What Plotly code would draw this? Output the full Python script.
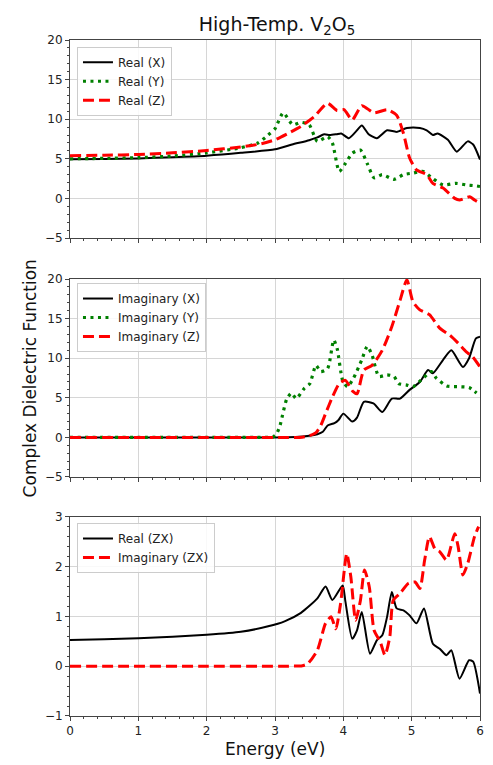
import plotly.graph_objects as go

# ---------------- data ----------------
# Top panel: real part
realX_E = [0, 0.5, 1.0, 1.5, 2.0, 2.5, 3.0, 3.25, 3.5, 3.62, 3.72, 3.80, 3.90, 3.97, 4.08, 4.18, 4.27, 4.37,
           4.49, 4.64, 4.78, 4.93, 5.12, 5.22, 5.31, 5.38, 5.53, 5.66, 5.82, 5.90, 6.0]
realX_V = [4.93, 4.98, 5.05, 5.2, 5.4, 5.75, 6.2, 6.8, 7.35, 7.7, 8.1, 8.0, 8.1, 8.2, 7.6, 8.4, 9.2, 8.1,
           7.6, 8.6, 8.4, 8.9, 8.9, 8.6, 8.0, 8.2, 7.4, 5.9, 7.2, 6.8, 4.9]

realY_E = [0, 0.5, 1.0, 1.5, 2.0, 2.5, 2.75, 2.9, 3.0, 3.12, 3.26, 3.38, 3.5, 3.62, 3.77, 3.84, 3.94, 4.03,
           4.13, 4.25, 4.35, 4.45, 4.57, 4.74, 4.88, 5.02, 5.17, 5.31, 5.46, 5.65, 5.8, 5.93, 6.0]
realY_V = [5.0, 5.05, 5.15, 5.35, 5.75, 6.4, 7.0, 8.0, 8.8, 10.8, 9.3, 9.6, 9.3, 7.2, 7.8, 7.0, 3.4, 4.4,
           5.7, 6.1, 4.4, 2.6, 3.0, 2.4, 3.0, 3.2, 3.4, 2.5, 1.7, 1.9, 1.7, 1.6, 1.5]

realZ_E = [0, 0.5, 1.0, 1.5, 2.0, 2.5, 2.8, 3.0, 3.19, 3.38, 3.57, 3.77, 3.91, 4.01, 4.13, 4.27, 4.45, 4.64,
           4.78, 4.88, 4.97, 5.07, 5.22, 5.31, 5.46, 5.63, 5.70, 5.85, 5.92, 6.0]
realZ_V = [5.4, 5.45, 5.55, 5.75, 6.05, 6.5, 6.9, 7.4, 8.2, 9.1, 10.3, 12.0, 11.1, 11.2, 9.9, 11.7, 10.8, 11.2,
           10.5, 8.2, 5.1, 3.6, 3.0, 1.9, 1.3, 0.0, -0.2, 0.2, -0.2, -0.6]

# Middle panel: imaginary part
imagX_E = [0, 1.0, 2.0, 2.8, 3.0, 3.3, 3.5, 3.62, 3.70, 3.77, 3.87, 3.93, 4.0, 4.13, 4.2, 4.3, 4.44, 4.57,
           4.71, 4.83, 4.97, 5.12, 5.24, 5.31, 5.46, 5.58, 5.75, 5.84, 5.94, 6.0]
imagX_V = [0, 0, 0, 0, 0, 0.05, 0.2, 0.4, 0.7, 1.5, 1.8, 2.2, 3.0, 2.0, 2.5, 4.5, 4.3, 3.2,
           4.9, 4.9, 6.0, 7.0, 8.5, 8.1, 9.8, 11.0, 8.9, 10.0, 12.5, 12.7]

imagY_E = [0, 1.0, 2.0, 2.7, 2.9, 2.97, 3.02, 3.07, 3.11, 3.17, 3.24, 3.31, 3.43, 3.51, 3.60, 3.67, 3.77,
           3.86, 3.91, 3.99, 4.06, 4.15, 4.27, 4.35, 4.42, 4.52, 4.64, 4.74, 4.81, 4.93, 5.02, 5.17, 5.29,
           5.36, 5.51, 5.70, 5.84, 5.95]
imagY_V = [0, 0, 0, 0, 0, 0.05, 0.4, 1.4, 2.8, 4.8, 5.6, 4.9, 6.2, 6.8, 9.1, 8.3, 8.7,
           12.3, 11.2, 7.2, 6.4, 7.5, 9.8, 11.5, 10.4, 7.7, 7.9, 7.7, 6.8, 6.6, 6.4, 7.5, 8.3,
           7.5, 6.5, 6.4, 6.3, 5.6]

imagZ_E = [0, 1.0, 2.0, 2.8, 3.2, 3.4, 3.5, 3.6, 3.67, 3.74, 3.84, 3.94, 4.03, 4.14, 4.2, 4.3, 4.42, 4.57,
           4.71, 4.83, 4.93, 5.02, 5.12, 5.26, 5.41, 5.56, 5.68, 5.80, 5.89, 6.0]
imagZ_V = [0, 0, 0, 0, 0, 0.02, 0.2, 0.6, 1.5, 3.0, 5.1, 6.8, 7.2, 5.8, 5.5, 8.5, 9.1, 11.0,
           14.0, 17.3, 19.9, 17.1, 16.1, 15.5, 13.8, 12.9, 11.9, 10.8, 10.2, 8.9]

# Bottom panel: ZX component
realZX_E = [0, 0.5, 1.0, 1.5, 2.0, 2.5, 2.9, 3.14, 3.38, 3.62, 3.74, 3.84, 3.99, 4.03, 4.13, 4.2, 4.27, 4.39,
            4.49, 4.57, 4.64, 4.71, 4.78, 4.88, 4.97, 5.07, 5.18, 5.31, 5.41, 5.51, 5.58, 5.70, 5.84, 5.90, 6.0]
realZX_V = [0.525, 0.54, 0.56, 0.59, 0.63, 0.69, 0.8, 0.9, 1.07, 1.36, 1.6, 1.33, 1.62, 1.3, 0.55, 0.72, 1.09, 0.25,
            0.52, 0.62, 0.99, 1.49, 1.16, 1.12, 1.02, 0.86, 1.16, 0.45, 0.35, 0.22, 0.32, -0.25, 0.12, 0.09, -0.55]

imagZX_E = [0, 1.0, 2.0, 2.8, 3.2, 3.4, 3.48, 3.62, 3.74, 3.82, 3.89, 3.96, 4.05, 4.11, 4.18, 4.25, 4.31,
            4.38, 4.45, 4.54, 4.61, 4.68, 4.73, 4.83, 4.95, 5.05, 5.12, 5.19, 5.26, 5.34, 5.41, 5.51, 5.63,
            5.68, 5.75, 5.82, 5.92, 5.98]
imagZX_V = [0, 0, 0, 0, 0, 0.01, 0.05, 0.32, 0.86, 0.99, 0.75, 1.26, 2.26, 1.79, 0.92, 1.32, 1.93,
            1.59, 0.72, 0.49, 0.22, 0.59, 1.32, 1.46, 1.66, 1.69, 1.56, 2.13, 2.60, 2.36, 2.30, 2.13, 2.66,
            2.40, 1.83, 2.06, 2.60, 2.80]

x_ticks = [0, 1, 2, 3, 4, 5, 6]
top_yticks = [-5, 0, 5, 10, 15, 20]
bot_yticks = [-1, 0, 1, 2, 3]

# ---------------- figure ----------------
FONT = "DejaVu Sans"
BLACK = "#000000"
GREEN = "#008000"
RED = "#ff0000"
DASH = "11px,5px"
DOT = "3px,4.5px"

fig = go.Figure()

def add(x, y, name, color, width, dash, xa, ya, legend):
    fig.add_trace(go.Scatter(
        x=x, y=y, name=name, mode="lines",
        line=dict(color=color, width=width, dash=dash, shape="spline", smoothing=0.6),
        xaxis=xa, yaxis=ya, legend=legend))

add(realX_E, realX_V, "Real (X)", BLACK, 2, "solid", "x", "y", "legend")
add(realY_E, realY_V, "Real (Y)", GREEN, 3.2, DOT, "x", "y", "legend")
add(realZ_E, realZ_V, "Real (Z)", RED, 3, DASH, "x", "y", "legend")

add(imagX_E, imagX_V, "Imaginary (X)", BLACK, 2, "solid", "x2", "y2", "legend2")
add(imagY_E, imagY_V, "Imaginary (Y)", GREEN, 3.2, DOT, "x2", "y2", "legend2")
add(imagZ_E, imagZ_V, "Imaginary (Z)", RED, 3, DASH, "x2", "y2", "legend2")

add(realZX_E, realZX_V, "Real (ZX)", BLACK, 2, "solid", "x3", "y3", "legend3")
add(imagZX_E, imagZX_V, "Imaginary (ZX)", RED, 3, DASH, "x3", "y3", "legend3")

tickfont = dict(family=FONT, size=12, color="#222222")
GRID = "#d6d6d6"
FRAME = "#444444"

def xaxis(anchor, labels):
    return dict(range=[0, 6], tickvals=x_ticks, showticklabels=labels, ticks="outside",
                ticklen=4, tickwidth=1, tickcolor=FRAME, showgrid=True, gridcolor=GRID, gridwidth=1,
                showline=True, linecolor=FRAME, linewidth=1, mirror=True, zeroline=False,
                anchor=anchor, tickfont=tickfont, domain=[0, 1], ticklabeloverflow="allow",
                minor=dict(dtick=0.2, ticks="outside", ticklen=2, tickcolor=FRAME, showgrid=False))

def yaxis(anchor, dom, rng, vals, mdt):
    return dict(range=rng, tickvals=vals, ticks="outside", ticklen=4, tickwidth=1, tickcolor=FRAME,
                showgrid=True, gridcolor=GRID, gridwidth=1, showline=True, linecolor=FRAME,
                linewidth=1, mirror=True, zeroline=False, anchor=anchor, domain=dom,
                tickfont=tickfont,
                minor=dict(dtick=mdt, ticks="outside", ticklen=2, tickcolor=FRAME, showgrid=False))

legend_style = dict(bgcolor="rgba(255,255,255,0.85)", bordercolor="#cccccc", borderwidth=1,
                    font=dict(family=FONT, size=12, color="#222222"), xanchor="left", yanchor="top",
                    itemwidth=30, tracegroupgap=0)

# The page body adds an 8px margin, so the figure is 8px smaller and shifted accordingly.
W, H = 485, 757
fig.update_layout(
    width=W, height=H,
    margin=dict(l=62, r=9, t=32, b=49),
    paper_bgcolor="white", plot_bgcolor="white",
    font=dict(family=FONT, color="#111111"),
    xaxis=xaxis("y", False),
    xaxis2=xaxis("y2", False),
    xaxis3=xaxis("y3", True),
    yaxis=yaxis("x", [0.7071, 1.0], [-5, 20], top_yticks, 1),
    yaxis2=yaxis("x2", [0.3536, 0.6464], [-5, 20], top_yticks, 1),
    yaxis3=yaxis("x3", [0.0, 0.2948], [-1, 3], bot_yticks, 0.2),
    legend=dict(x=0.017, y=0.99, **legend_style),
    legend2=dict(x=0.017, y=0.6405, **legend_style),
    legend3=dict(x=0.017, y=0.2855, **legend_style),
    title=dict(text="High-Temp. V<sub>2</sub>O<sub>5</sub>", x=269 / W, xanchor="center",
               y=1 - 16 / H, yanchor="middle",
               font=dict(family=FONT, size=19, color="#111111")),
    annotations=[
        dict(text="Energy (eV)", xref="paper", yref="paper", x=0.5, y=-33 / 676, xanchor="center",
             yanchor="middle", showarrow=False, font=dict(family=FONT, size=17, color="#111111")),
        dict(text="Complex Dielectric Function", xref="paper", yref="paper", x=-40 / 414, y=0.5,
             xanchor="center", yanchor="middle", textangle=-90, showarrow=False,
             font=dict(family=FONT, size=17, color="#111111")),
    ],
)

fig.write_html("out.html")
